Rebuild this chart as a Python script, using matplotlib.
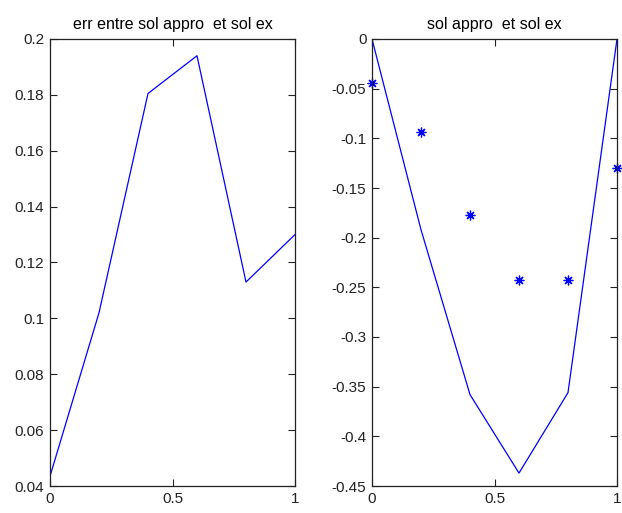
import matplotlib
matplotlib.use("Agg")
import matplotlib.pyplot as plt

x = [0.0, 0.2, 0.4, 0.6, 0.8, 1.0]
err = [0.0435, 0.102, 0.1805, 0.194, 0.113, 0.130]
sol_ex = [0.0, -0.192, -0.358, -0.437, -0.356, 0.0]
sol_appro = [-0.044, -0.094, -0.177, -0.243, -0.243, -0.130]

left_yticks = [0.04, 0.06, 0.08, 0.1, 0.12, 0.14, 0.16, 0.18, 0.2]
left_ylabels = ["0.04", "0.06", "0.08", "0.1", "0.12", "0.14", "0.16", "0.18", "0.2"]
right_yticks = [-0.45, -0.4, -0.35, -0.3, -0.25, -0.2, -0.15, -0.1, -0.05, 0]
right_ylabels = ["-0.45", "-0.4", "-0.35", "-0.3", "-0.25", "-0.2", "-0.15", "-0.1", "-0.05", "0"]
xticks = [0, 0.5, 1]
xlabels = ["0", "0.5", "1"]

plt.rcParams['font.family'] = ['Liberation Sans', 'DejaVu Sans']

W, H = 622, 513
fig = plt.figure(figsize=(W / 100, H / 100), dpi=100)
ax1 = fig.add_axes([50 / W, (H - 486) / H, 245 / W, 447 / H])
ax2 = fig.add_axes([372 / W, (H - 486) / H, 245 / W, 447 / H])

blue = '#0000ff'
ax1.plot(x, err, color=blue, lw=0.9)
ax1.set_xlim(0, 1)
ax1.set_ylim(0.04, 0.2)
ax1.set_yticks(left_yticks)
ax1.set_yticklabels(left_ylabels)
ax1.set_title("err entre sol appro  et sol ex", fontsize=11.5, pad=7)

ax2.plot(x, sol_ex, color=blue, lw=0.9)
ax2.plot(x, sol_appro, linestyle='none', marker=(8, 2, 0), markersize=7,
         markeredgewidth=0.9, color=blue, clip_on=False)
ax2.set_xlim(0, 1)
ax2.set_ylim(-0.45, 0)
ax2.set_yticks(right_yticks)
ax2.set_yticklabels(right_ylabels)
ax2.set_title("sol appro  et sol ex", fontsize=11.5, pad=7)

for ax in (ax1, ax2):
    ax.set_xticks(xticks)
    ax.set_xticklabels(xlabels)
    ax.tick_params(direction='in', length=5, width=0.8, top=True, right=True,
                   labelsize=11, colors='#222222', pad=4)
    for s in ax.spines.values():
        s.set_linewidth(0.9)
        s.set_color('#222222')

fig.savefig("out.png", dpi=100)
